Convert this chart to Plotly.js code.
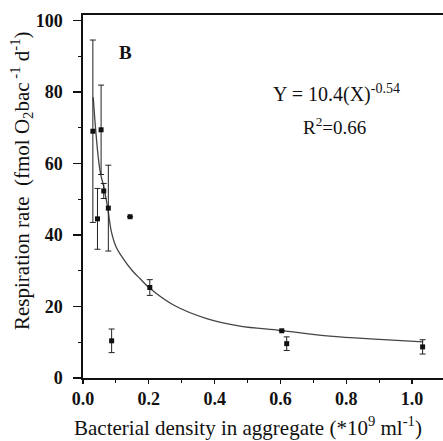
<!DOCTYPE html>
<html>
<head>
<meta charset="utf-8">
<script src="https://cdn.plot.ly/plotly-3.0.1.min.js"></script>
<style>html,body{margin:0;padding:0;background:#fff;}#chart{width:443px;height:441px;}</style>
</head>
<body>
<div id="chart"></div>
<script>
// Measured data points
var densityX = [0.030, 0.044, 0.055, 0.063, 0.077, 0.087, 0.143, 0.203, 0.604, 0.619, 1.032];
var respY    = [69.0, 44.5, 69.4, 52.3, 47.5, 10.4, 45.1, 25.3, 13.2, 9.6, 8.7];
var respErr  = [25.5, 8.5, 12.5, 2.1, 12.0, 3.3, 0, 2.2, 0, 1.9, 2.0];

// Fitted curve
var fitX = [0.031, 0.038, 0.046, 0.053, 0.063, 0.076, 0.086, 0.100, 0.122, 0.150, 0.173, 0.204, 0.275, 0.376, 0.477, 0.600, 0.750, 0.900, 1.034];
var fitY = [78.5, 70.0, 62.0, 57.3, 53.5, 47.0, 41.0, 36.8, 33.4, 30.0, 27.8, 25.0, 20.4, 16.6, 14.5, 13.3, 11.7, 10.8, 10.1];

// Tick labels
var xTickVals = [0, 0.2, 0.4, 0.6, 0.8, 1.0];
var xTickText = ['0.0', '0.2', '0.4', '0.6', '0.8', '1.0'];
var yTickVals = [0, 20, 40, 60, 80, 100];
var yTickText = ['0', '20', '40', '60', '80', '100'];

// Titles and labels
var xTitle = 'Bacterial density in aggregate (*10<sup>9</sup> ml<sup>-1</sup>)';
var yTitle = 'Respiration rate  (fmol O<sub>2</sub>bac<sup> -1</sup> d<sup>-1</sup>)';
var panelLabel = 'B';
var equationText = 'Y = 10.4(X)<sup>-0.54</sup>';
var r2Text = 'R<sup>2</sup>=0.66';

var serif = 'Liberation Serif, Times New Roman, serif';

var traces = [
  {
    x: fitX, y: fitY, type: 'scatter', mode: 'lines',
    line: {color: '#444', width: 1.3, shape: 'spline'},
    hoverinfo: 'skip', showlegend: false
  },
  {
    x: densityX, y: respY, type: 'scatter', mode: 'markers',
    marker: {symbol: 'square', size: 5, color: '#111'},
    error_y: {type: 'data', array: respErr, visible: true, color: '#222', thickness: 1, width: 3},
    showlegend: false
  }
];

var ML = 83, MR = 0, MT = 15, MB = 63;
var plotW = 443 - ML - MR, plotH = 441 - MT - MB;
function px2paperX(p) { return (p - ML) / plotW; }
function px2paperY(p) { return (441 - MB - p) / plotH; }

var layout = {
  width: 443, height: 441,
  margin: {l: ML, r: MR, t: MT, b: MB},
  paper_bgcolor: '#fff', plot_bgcolor: '#fff',
  font: {family: serif, color: '#111'},
  xaxis: {
    range: [0, 1.094], showgrid: false, zeroline: false,
    showline: true, linecolor: '#111', linewidth: 1.6, mirror: true,
    ticks: 'outside', ticklen: 4, tickwidth: 1.3, tickcolor: '#111',
    tickvals: xTickVals, ticktext: xTickText,
    tickfont: {family: serif, size: 18, color: '#111', weight: 'bold'},
    minor: {ticks: 'outside', ticklen: 3, tickwidth: 1, tickcolor: '#111', dtick: 0.1, showgrid: false}
  },
  yaxis: {
    range: [0, 101.5], showgrid: false, zeroline: false,
    showline: true, linecolor: '#111', linewidth: 1.6,
    ticks: 'outside', ticklen: 8, tickwidth: 1.3, tickcolor: '#111',
    tickvals: yTickVals, ticktext: yTickText, ticklabelstandoff: 7,
    tickfont: {family: serif, size: 18, color: '#111', weight: 'bold'},
    minor: {ticks: 'outside', ticklen: 3, tickwidth: 1, tickcolor: '#111', dtick: 10, showgrid: false}
  },
  annotations: [
    {x: px2paperX(248), y: px2paperY(427), xref: 'paper', yref: 'paper',
     xanchor: 'center', yanchor: 'middle', text: xTitle, showarrow: false,
     font: {family: serif, size: 21, color: '#111'}},
    {x: px2paperX(22), y: px2paperY(181), xref: 'paper', yref: 'paper',
     xanchor: 'center', yanchor: 'middle', text: yTitle, textangle: -90, showarrow: false,
     font: {family: serif, size: 21, color: '#111'}},
    {x: 0.128, y: 91, xref: 'x', yref: 'y', text: panelLabel, showarrow: false,
     font: {family: serif, size: 19, color: '#111', weight: 'bold'}},
    {x: 0.77, y: 79.5, xref: 'x', yref: 'y', text: equationText, showarrow: false,
     font: {family: serif, size: 20, color: '#111'}},
    {x: 0.765, y: 70.5, xref: 'x', yref: 'y', text: r2Text, showarrow: false,
     font: {family: serif, size: 19, color: '#111'}}
  ]
};

Plotly.newPlot('chart', traces, layout, {displayModeBar: false, staticPlot: true});
</script>
</body>
</html>
